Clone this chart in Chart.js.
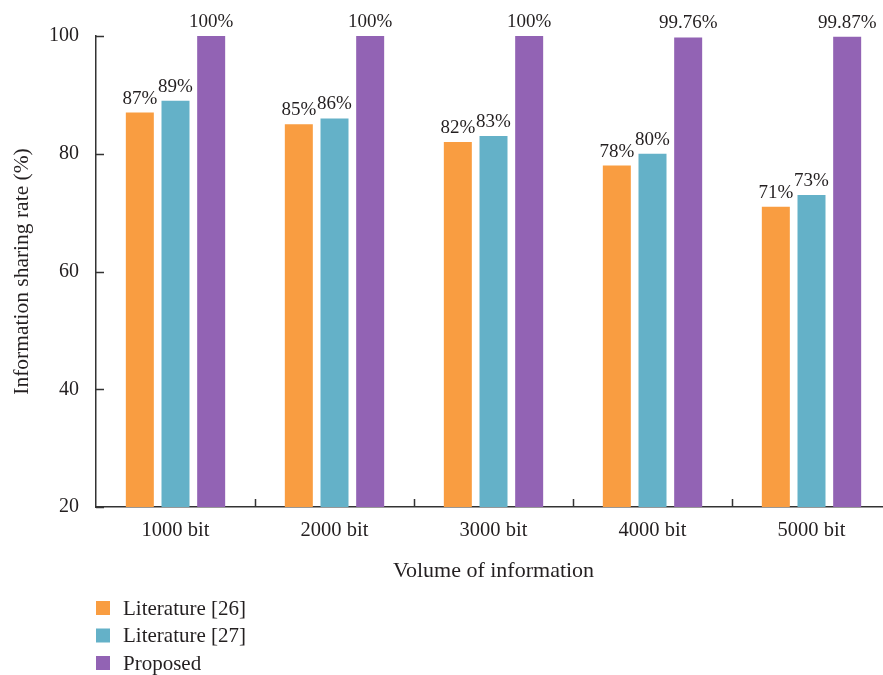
<!DOCTYPE html>
<html>
<head>
<meta charset="utf-8">
<script src="https://cdn.jsdelivr.net/npm/chart.js@4.4.1/dist/chart.umd.min.js"></script>
<style>
  html, body { margin: 0; padding: 0; background: #fff; overflow: hidden; }
  #wrap { width: 893px; height: 675px; }
</style>
</head>
<body>
<div id="wrap"><canvas id="c" width="893" height="675"></canvas></div>
<script>
// Information sharing rate by volume of information
const categories = ['1000 bit', '2000 bit', '3000 bit', '4000 bit', '5000 bit'];
const literature26 = [87, 85, 82, 78, 71];
const literature27 = [89, 86, 83, 80, 73];
const proposed = [100, 100, 100, 99.76, 99.87];
const seriesNames = ['Literature [26]', 'Literature [27]', 'Proposed'];
const yTicks = [20, 40, 60, 80, 100];

const FONT = 'Liberation Serif, Times New Roman, serif';
const TEXT = '#231f20';
const AXIS = '#333333';
const colors = ['#F99D41', '#64B1C8', '#9263B4'];

// Inward tick marks on both axes
const tickMarks = {
  id: 'tickMarks',
  afterDraw(chart) {
    const ctx = chart.ctx;
    const x = chart.scales.x, y = chart.scales.y;
    ctx.save();
    ctx.strokeStyle = AXIS;
    ctx.lineWidth = 1.5;
    ctx.beginPath();
    yTicks.forEach(v => {
      const py = Math.round(y.getPixelForValue(v)) + 0.5;
      ctx.moveTo(x.left, py);
      ctx.lineTo(x.left + 8, py);
    });
    for (let i = 1; i < categories.length; i++) {
      const px = Math.round((x.getPixelForTick(i - 1) + x.getPixelForTick(i)) / 2) + 0.5;
      ctx.moveTo(px, y.bottom);
      ctx.lineTo(px, y.bottom - 8);
    }
    ctx.stroke();
    ctx.restore();
  }
};

// Value labels above each bar
const valueLabels = {
  id: 'valueLabels',
  afterDatasetsDraw(chart) {
    const ctx = chart.ctx;
    ctx.save();
    ctx.font = '19px ' + FONT;
    ctx.fillStyle = TEXT;
    ctx.textAlign = 'center';
    ctx.textBaseline = 'alphabetic';
    chart.data.datasets.forEach((ds, di) => {
      chart.getDatasetMeta(di).data.forEach((bar, i) => {
        ctx.fillText(ds.data[i] + '%', bar.x, bar.y - 9);
      });
    });
    ctx.restore();
  }
};

// Vertical legend below the plot
const stackedLegend = {
  id: 'stackedLegend',
  afterDraw(chart) {
    const ctx = chart.ctx;
    ctx.save();
    ctx.font = '21px ' + FONT;
    ctx.textBaseline = 'middle';
    chart.data.datasets.forEach((ds, i) => {
      const cy = 608 + i * 27.5;
      ctx.fillStyle = ds.backgroundColor;
      ctx.fillRect(96, cy - 7, 14, 14);
      ctx.fillStyle = TEXT;
      ctx.fillText(ds.label, 123, cy + 1);
    });
    ctx.restore();
  }
};

new Chart(document.getElementById('c'), {
  type: 'bar',
  data: {
    labels: categories,
    datasets: [
      { label: seriesNames[0], data: literature26, backgroundColor: colors[0] },
      { label: seriesNames[1], data: literature27, backgroundColor: colors[1] },
      { label: seriesNames[2], data: proposed, backgroundColor: colors[2] }
    ]
  },
  options: {
    responsive: false,
    animation: false,
    devicePixelRatio: 1,
    layout: { padding: { top: 36, right: 2, bottom: 87, left: 0 } },
    datasets: { bar: { categoryPercentage: 0.673, barPercentage: 0.785 } },
    plugins: {
      legend: { display: false },
      tooltip: { enabled: false }
    },
    scales: {
      x: {
        offset: true,
        grid: { display: false, offset: true },
        border: { display: true, color: AXIS, width: 1.5 },
        ticks: { font: { family: FONT, size: 20.5 }, color: TEXT, padding: 3, maxRotation: 0 },
        title: { display: true, text: 'Volume of information', font: { family: FONT, size: 22 }, color: TEXT, padding: 4 },
        afterFit(s) { s.height = 81; }
      },
      y: {
        min: 20,
        max: 100,
        grid: { display: false },
        border: { display: true, color: AXIS, width: 1.5 },
        afterBuildTicks(s) { s.ticks = yTicks.map(v => ({ value: v })); },
        ticks: { font: { family: FONT, size: 20 }, color: TEXT, padding: 9 },
        title: { display: true, text: 'Information sharing rate (%)', font: { family: FONT, size: 21.5 }, color: TEXT, padding: 9 },
        afterFit(s) { s.width = 96; }
      }
    }
  },
  plugins: [tickMarks, valueLabels, stackedLegend]
});
</script>
</body>
</html>
